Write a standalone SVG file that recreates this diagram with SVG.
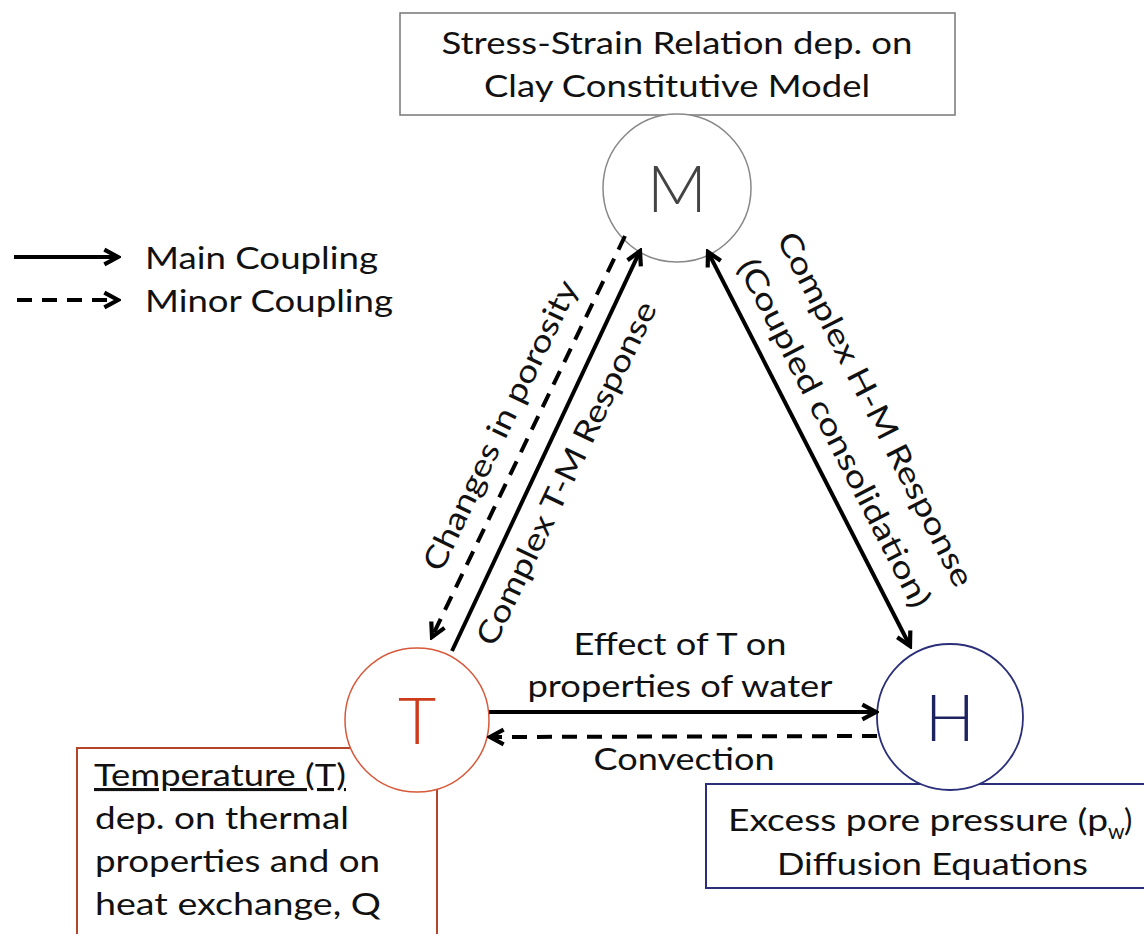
<svg xmlns="http://www.w3.org/2000/svg" width="1144" height="934" viewBox="0 0 1144 934">
<style>
text{font-family:Lato,"Open Sans","Liberation Sans",sans-serif;fill:#111}
.lbl{font-size:31px}
.big{font-size:66px;font-weight:300}
.solid{stroke:#000;stroke-width:4;fill:none}
.dash{stroke:#000;stroke-width:4;fill:none;stroke-dasharray:15 10}
</style>
<defs>
<marker id="ah" viewBox="0 0 20 20" refX="17" refY="10" markerWidth="21" markerHeight="21" markerUnits="userSpaceOnUse" orient="auto-start-reverse">
<path d="M4,3 L17,10 L4,17" fill="none" stroke="#000" stroke-width="4"/>
</marker>
</defs>
<rect width="1144" height="934" fill="#fff"/>

<g id="legend">
<line class="solid" x1="14" y1="257" x2="118" y2="257" marker-end="url(#ah)"/>
<line class="dash" x1="17" y1="300" x2="118" y2="300" stroke-dasharray="20 13" marker-end="url(#ah)"/>
<text class="lbl" x="145" y="269" textLength="233" lengthAdjust="spacingAndGlyphs">Main Coupling</text>
<text class="lbl" x="145" y="312" textLength="248" lengthAdjust="spacingAndGlyphs">Minor Coupling</text>
</g>

<g id="node-M-box">
<rect x="400" y="13" width="555" height="102" fill="#fff" stroke="#777" stroke-width="1.5"/>
<text class="lbl" x="677" y="54" text-anchor="middle" textLength="471" lengthAdjust="spacingAndGlyphs">Stress-Strain Relation dep. on</text>
<text class="lbl" x="677" y="97" text-anchor="middle" textLength="386" lengthAdjust="spacingAndGlyphs">Clay Constitutive Model</text>
</g>

<g id="node-M">
<circle cx="677" cy="188" r="74" fill="#fff" stroke="#888" stroke-width="1.5"/>
<text class="big" x="677" y="212" text-anchor="middle" style="fill:#444">M</text>
</g>

<g id="node-T-box">
<rect x="77" y="748" width="360" height="200" fill="#fff" stroke="#b5452a" stroke-width="2"/>
<text class="lbl" x="94" y="786" text-decoration="underline" textLength="252" lengthAdjust="spacingAndGlyphs">Temperature (T)</text>
<text class="lbl" x="95" y="829" textLength="254" lengthAdjust="spacingAndGlyphs">dep. on thermal</text>
<text class="lbl" x="95" y="872" textLength="285" lengthAdjust="spacingAndGlyphs">properties and on</text>
<text class="lbl" x="95" y="915" textLength="286" lengthAdjust="spacingAndGlyphs">heat exchange, Q</text>
</g>

<g id="node-T">
<circle cx="417" cy="720" r="72" fill="#fff" stroke="#d8583a" stroke-width="1.5"/>
<text class="big" x="417" y="744" text-anchor="middle" style="fill:#cc3b1c">T</text>
</g>

<g id="node-H-box">
<rect x="706" y="784" width="450" height="104" fill="#fff" stroke="#2a2f78" stroke-width="2"/>
<text class="lbl" x="728" y="831" textLength="380" lengthAdjust="spacingAndGlyphs">Excess pore pressure (p</text>
<text x="1108" y="839" font-size="21">w</text>
<text class="lbl" x="1124" y="831">)</text>
<text class="lbl" x="777" y="875" textLength="311" lengthAdjust="spacingAndGlyphs">Diffusion Equations</text>
</g>

<g id="node-H">
<circle cx="950" cy="717" r="73" fill="#fff" stroke="#2a2f78" stroke-width="1.8"/>
<text class="big" x="950" y="741" text-anchor="middle" style="fill:#1d2260">H</text>
</g>

<g id="connectors">
<line class="solid" x1="452" y1="651" x2="640" y2="251" marker-end="url(#ah)"/>
<line class="dash" x1="625" y1="236" x2="432" y2="637" marker-end="url(#ah)"/>
<line class="solid" x1="708" y1="252" x2="910" y2="646" marker-start="url(#ah)" marker-end="url(#ah)"/>
<line class="solid" x1="489" y1="712" x2="876" y2="712" marker-end="url(#ah)"/>
<line class="dash" x1="877" y1="736" x2="490" y2="737" marker-end="url(#ah)"/>
<text class="lbl" transform="translate(510,430) rotate(-64.4)" text-anchor="middle" textLength="318" lengthAdjust="spacingAndGlyphs">Changes in porosity</text>
<text class="lbl" transform="translate(576,478) rotate(-64.4)" text-anchor="middle" textLength="377" lengthAdjust="spacingAndGlyphs">Complex T-M Response</text>
<text class="lbl" transform="translate(866,414) rotate(62.9)" text-anchor="middle" textLength="394" lengthAdjust="spacingAndGlyphs">Complex H-M Response</text>
<text class="lbl" transform="translate(825,438) rotate(62.9)" text-anchor="middle" textLength="387" lengthAdjust="spacingAndGlyphs">(Coupled consolidation)</text>
<text class="lbl" x="680" y="655" text-anchor="middle" textLength="213" lengthAdjust="spacingAndGlyphs">Effect of T on</text>
<text class="lbl" x="680" y="697" text-anchor="middle" textLength="305" lengthAdjust="spacingAndGlyphs">properties of water</text>
<text class="lbl" x="684" y="770" text-anchor="middle" textLength="181" lengthAdjust="spacingAndGlyphs">Convection</text>
</g>
</svg>
